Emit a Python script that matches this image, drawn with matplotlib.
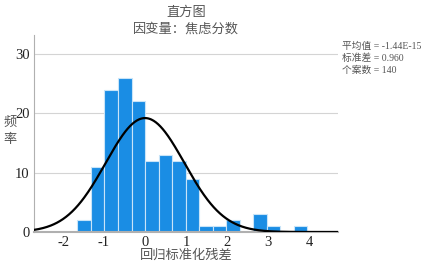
import numpy as np
import matplotlib.pyplot as plt

plt.rcParams['font.family'] = ['Liberation Serif', 'Noto Sans CJK SC']

# histogram data (regression standardized residuals)
bin_width = 0.33
first_edge = -5 * bin_width
counts = [2, 11, 24, 26, 22, 12, 13, 12, 9, 1, 1, 2, 0, 3, 1, 0, 1]
mean = -1.44e-15
std = 0.960
n = 140

fig = plt.figure(figsize=(4.23, 2.66), dpi=100)
ax = fig.add_axes([34 / 423, 1 - 232 / 266, (338 - 34) / 423, (232 - 35) / 266])

lefts = first_edge + bin_width * np.arange(len(counts))
ax.bar(lefts, counts, width=bin_width, align='edge', color='#1a8de4',
       edgecolor='#c8e4f8', linewidth=0.8, zorder=2)

xs = np.linspace(-2.71, 4.71, 400)
ys = n * bin_width / (std * np.sqrt(2 * np.pi)) * np.exp(-0.5 * ((xs - mean) / std) ** 2)
ax.plot(xs, ys, color='black', linewidth=1.6, zorder=3)

ax.set_xlim(-2.71, 4.71)
ax.set_ylim(0, 33.2)
ax.set_yticks([0, 10, 20, 30])
ax.set_xticks([-2, -1, 0, 1, 2, 3, 4])
ax.set_xticklabels(['-2', '-1', '0', '1', '2', '3', '4'])
ax.yaxis.grid(True, color='#d4d4d4', linewidth=0.8, zorder=0)
ax.set_axisbelow(True)
for s in ['top', 'right']:
    ax.spines[s].set_visible(False)
ax.spines['left'].set_color('#b0b0b0')
ax.spines['bottom'].set_color('#b0b0b0')
ax.spines['bottom'].set_linewidth(1.5)
ax.tick_params(length=0, labelsize=10.5, pad=3, colors='#222222')

ax.set_xlabel('回归标准化残差', fontsize=9.5, color='#555555', labelpad=0,
              family=['Noto Sans CJK SC'])
fig.text(10 / 423, 1 - 131 / 266, '频\n率', fontsize=9.5, color='#555555',
         ha='center', va='center', linespacing=1.4, family=['Noto Sans CJK SC'])

fig.text(0.5 * (34 + 338) / 423, 1 - 12 / 266, '直方图', fontsize=9.5,
         color='#555555', ha='center', va='center', family=['Noto Sans CJK SC'])
fig.text(0.5 * (34 + 338) / 423, 1 - 29 / 266, '因变量：焦虑分数', fontsize=9.5,
         color='#555555', ha='center', va='center', family=['Noto Sans CJK SC'])

stats = '平均值 = -1.44E-15\n标准差 = 0.960\n个案数 = 140'
fig.text(342 / 423, 1 - 42 / 266, stats, fontsize=7, color='#555555',
         ha='left', va='top', linespacing=1.3,
         family=['Liberation Serif', 'Noto Sans CJK SC'])

fig.savefig('out.png', dpi=100)
